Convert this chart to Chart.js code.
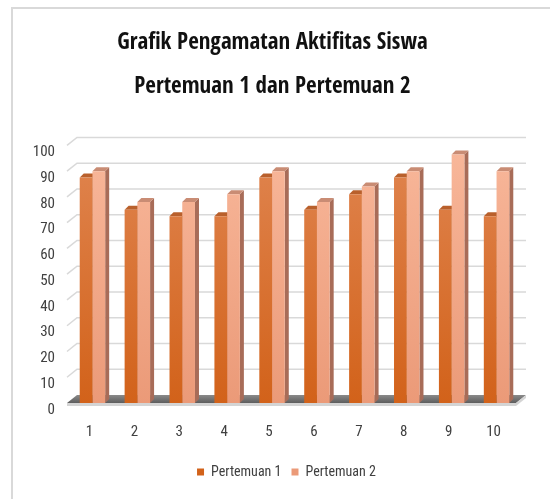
<!DOCTYPE html>
<html>
<head>
<meta charset="utf-8">
<script src="https://cdn.jsdelivr.net/npm/chart.js@4.4.1/dist/chart.umd.min.js"></script>
<style>
  html, body { margin: 0; padding: 0; background: #fff; }
  canvas { display: block; }
</style>
</head>
<body>
<canvas id="Chart" width="550" height="499"></canvas>
<script>
// data
const pertemuan = ['1', '2', '3', '4', '5', '6', '7', '8', '9', '10'];
const pertemuan1 = [87.5, 75, 72.5, 72.5, 87.5, 75, 81, 87.5, 75, 72.5];
const pertemuan2 = [90, 78, 78, 81, 90, 78, 84, 90, 96.5, 90];
const yTicks = [0, 10, 20, 30, 40, 50, 60, 70, 80, 90, 100];

const TITLE_FONT = '"Open Sans Condensed", "Roboto Condensed", sans-serif';
const FONT = '"Roboto Condensed", "Open Sans Condensed", sans-serif';
const DEPTH = 4;     // bar depth in px
const WALL_DX = 10;  // back wall offset
const WALL_DY = -8;

function grad(ctx, top, bottom) {
    const chart = ctx.chart;
    const area = chart.chartArea;
    if (!area) return bottom;
    const g = chart.ctx.createLinearGradient(0, area.top, 0, area.bottom);
    g.addColorStop(0, top);
    g.addColorStop(1, bottom);
    return g;
}

// draws frame, back wall grid, floor and the 3d faces of the bars
const excel3d = {
    id: 'excel3d',
    afterLayout(chart) {
        // legend sits a bit right of centre in the original
        chart.legend.left += 14;
        chart.legend.right += 14;
    },
    beforeDraw(chart) {
        const c = chart.ctx;
        c.save();
        c.fillStyle = '#fff';
        c.fillRect(0, 0, chart.width, chart.height);
        c.strokeStyle = '#d9d9d9';
        c.lineWidth = 2;
        c.beginPath();
        c.moveTo(12, chart.height);
        c.lineTo(12, 8);
        c.lineTo(chart.width, 8);
        c.stroke();
        c.restore();
    },
    beforeDatasetsDraw(chart) {
        const c = chart.ctx;
        const a = chart.chartArea;
        const y = chart.scales.y;
        const x0 = a.left - 3;
        const x1 = a.right - 3;
        c.save();
        // back wall gridlines
        c.strokeStyle = '#d9d9d9';
        c.lineWidth = 1.5;
        yTicks.forEach(v => {
            if (v === 0) return;
            const py = y.getPixelForValue(v);
            c.beginPath();
            c.moveTo(x0, py);
            c.lineTo(x0 + WALL_DX, py + WALL_DY);
            c.lineTo(x1 + WALL_DX, py + WALL_DY);
            c.stroke();
        });
        // floor
        const fb = y.getPixelForValue(0);
        const fg = c.createLinearGradient(0, fb + WALL_DY, 0, fb);
        fg.addColorStop(0, '#8a8a8a');
        fg.addColorStop(1, '#5e5e5e');
        c.fillStyle = fg;
        c.beginPath();
        c.moveTo(x0, fb);
        c.lineTo(x1, fb);
        c.lineTo(x1 + WALL_DX, fb + WALL_DY);
        c.lineTo(x0 + WALL_DX, fb + WALL_DY);
        c.closePath();
        c.fill();
        c.fillStyle = '#d4d4d4';
        c.beginPath();
        c.moveTo(x0, fb);
        c.lineTo(x1, fb);
        c.lineTo(x1 + WALL_DX, fb + WALL_DY);
        c.lineTo(x1 + WALL_DX, fb + WALL_DY + 3);
        c.lineTo(x1, fb + 3);
        c.lineTo(x0, fb + 3);
        c.closePath();
        c.fill();

        // side and top faces of the bars
        const faces = [
            { side: '#a85a2c', top: '#b9602c' },
            { side: '#a86c58', top: '#c98c74' }
        ];
        chart.data.datasets.forEach((ds, i) => {
            chart.getDatasetMeta(i).data.forEach(bar => {
                const p = bar.getProps(['x', 'y', 'width', 'base'], true);
                const l = p.x - p.width / 2;
                const r = p.x + p.width / 2;
                c.fillStyle = faces[i].side;
                c.beginPath();
                c.moveTo(r, p.y);
                c.lineTo(r + DEPTH, p.y - DEPTH);
                c.lineTo(r + DEPTH, p.base - DEPTH);
                c.lineTo(r, p.base);
                c.closePath();
                c.fill();
                c.fillStyle = faces[i].top;
                c.beginPath();
                c.moveTo(l, p.y);
                c.lineTo(r, p.y);
                c.lineTo(r + DEPTH, p.y - DEPTH);
                c.lineTo(l + DEPTH, p.y - DEPTH);
                c.closePath();
                c.fill();
            });
        });
        c.restore();
    }
};

const ctx = document.getElementById('Chart').getContext('2d');
const myChart = new Chart(ctx, {
    type: 'bar',
    data: {
        labels: pertemuan,
        datasets: [
            {
                label: 'Pertemuan 1',
                data: pertemuan1,
                backgroundColor: c => grad(c, '#e08550', '#d2621a'),
                borderWidth: 0
            },
            {
                label: 'Pertemuan 2',
                data: pertemuan2,
                backgroundColor: c => grad(c, '#f8b79a', '#eb9a78'),
                borderWidth: 0
            }
        ]
    },
    options: {
        responsive: false,
        animation: false,
        events: [],
        layout: { padding: { left: 26, right: 31, top: 0, bottom: 10 } },
        datasets: {
            bar: { barPercentage: 1, categoryPercentage: 0.567 }
        },
        scales: {
            x: {
                grid: { display: false, drawTicks: false },
                border: { display: false },
                ticks: {
                    color: '#404040',
                    font: { family: FONT, size: 15 },
                    padding: 20,
                    labelOffset: -3
                },
                afterFit: s => { s.height = 52; }
            },
            y: {
                min: 0,
                max: 100,
                grid: { display: false, drawTicks: false },
                border: { display: false },
                ticks: {
                    stepSize: 10,
                    color: '#404040',
                    font: { family: FONT, size: 15 },
                    padding: 15,
                    labelOffset: 7
                },
                afterFit: s => { s.width = 44; }
            }
        },
        plugins: {
            tooltip: { enabled: false },
            title: {
                display: true,
                text: ['Grafik Pengamatan Aktifitas Siswa', 'Pertemuan 1 dan Pertemuan 2'],
                color: '#111',
                font: { family: TITLE_FONT, size: 23, weight: 'bold', lineHeight: 1.9 },
                padding: { top: 21, bottom: 37 }
            },
            legend: {
                position: 'bottom',
                labels: {
                    color: '#404040',
                    font: { family: FONT, size: 14 },
                    boxWidth: 7,
                    boxHeight: 7,
                    padding: 10
                }
            }
        }
    },
    plugins: [excel3d]
});
</script>
</body>
</html>
